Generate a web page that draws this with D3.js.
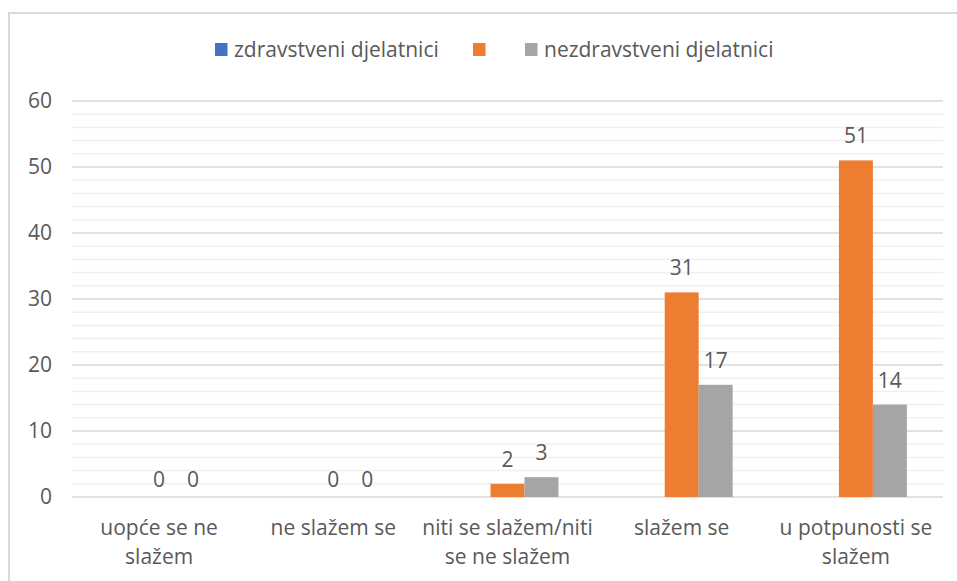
<!DOCTYPE html>
<head>
  <meta charset="utf-8">
  <title>zdravstveni / nezdravstveni djelatnici</title>
<style>
html, body{
  width: 100%;
  height: 100%;
  margin: 0;
  padding: 0;
  background: #fff;
}
body{
  font-family: 'Open Sans', 'Noto Sans', sans-serif;
}
svg text {
  fill: #595959;
}
.grid-major {
  stroke: #d9d9d9;
  stroke-width: 1.5;
}
.grid-minor {
  stroke: #efefef;
  stroke-width: 1.5;
}
</style>
</head>
<body>
<svg width="957" height="581"></svg>
<script src="https://d3js.org/d3.v7.min.js"></script>
<script>
var svg = d3.select("svg"),
    width = +svg.attr("width"),
    height = +svg.attr("height");

// data
var categories = ["uopće se ne\nslažem", "ne slažem se", "niti se slažem/niti\nse ne slažem", "slažem se", "u potpunosti se\nslažem"];
var seriesNames = ["zdravstveni djelatnici", "", "nezdravstveni djelatnici"];
var seriesColors = ["#4472c4", "#ed7d31", "#a5a5a5"];
var zdravstveni = [null, null, null, null, null];
var orange = [0, 0, 2, 31, 51];
var nezdravstveni = [0, 0, 3, 17, 14];
var yTicks = [0, 10, 20, 30, 40, 50, 60];

var series = [zdravstveni, orange, nezdravstveni];
var fontSize = "21px";

var margin = {left: 72, right: 14, top: 101, bottom: 84};

var x = d3.scaleBand()
    .domain(d3.range(categories.length))
    .range([margin.left, width - margin.right]);

var xInner = d3.scaleBand()
    .domain(d3.range(series.length))
    .range([0, x.bandwidth() * 0.585])
    .padding(0);

var y = d3.scaleLinear()
    .domain([0, 60])
    .range([height - margin.bottom, margin.top]);

// chart frame
svg.append("rect")
    .attr("x", 9).attr("y", 13)
    .attr("width", width + 20).attr("height", height + 20)
    .attr("fill", "none")
    .attr("stroke", "#d9d9d9")
    .attr("stroke-width", 2);

// minor gridlines every 2
svg.selectAll(".grid-minor")
  .data(d3.range(0, 61, 2).filter(function(d) { return d % 10 !== 0; }))
  .enter().append("line")
    .attr("class", "grid-minor")
    .attr("x1", margin.left).attr("x2", width - margin.right)
    .attr("y1", function(d) { return y(d); })
    .attr("y2", function(d) { return y(d); });

svg.selectAll(".grid-major")
  .data(yTicks)
  .enter().append("line")
    .attr("class", "grid-major")
    .attr("x1", margin.left).attr("x2", width - margin.right)
    .attr("y1", function(d) { return y(d); })
    .attr("y2", function(d) { return y(d); });

// y axis labels
var yAxis = d3.axisLeft(y).tickValues(yTicks).tickSize(0).tickPadding(20);
var yg = svg.append("g")
    .attr("transform", "translate(" + margin.left + ",0)")
    .call(yAxis);
yg.select(".domain").remove();
yg.selectAll("text")
    .style("font-family", "'Open Sans', sans-serif")
    .style("font-size", fontSize)
    .attr("fill", "#595959");

// bars
var groups = svg.selectAll(".series")
  .data(series)
  .enter().append("g")
    .attr("class", "series")
    .attr("fill", function(d, i) { return seriesColors[i]; });

groups.each(function(vals, si) {
  var g = d3.select(this);
  var off = (x.bandwidth() - xInner.range()[1]) / 2;
  var pts = vals.map(function(v, ci) { return {v: v, ci: ci}; })
    .filter(function(d) { return d.v !== null; });

  g.selectAll("rect")
    .data(pts)
    .enter().append("rect")
      .attr("x", function(d) { return x(d.ci) + off + xInner(si); })
      .attr("y", function(d) { return y(d.v); })
      .attr("width", xInner.bandwidth())
      .attr("height", function(d) { return y(0) - y(d.v); });

  g.selectAll("text")
    .data(pts)
    .enter().append("text")
      .attr("x", function(d) { return x(d.ci) + off + xInner(si) + xInner.bandwidth() / 2; })
      .attr("y", function(d) { return y(d.v) - (d.v > 0 ? 17 : 10); })
      .attr("text-anchor", "middle")
      .style("font-size", fontSize)
      .text(function(d) { return d.v; });
});

// category labels
var xl = svg.selectAll(".cat")
  .data(categories)
  .enter().append("text")
    .attr("class", "cat")
    .attr("text-anchor", "middle")
    .style("font-size", fontSize)
    .attr("transform", function(d, i) {
      return "translate(" + (x(i) + x.bandwidth() / 2) + "," + 535 + ")";
    });
xl.selectAll("tspan")
  .data(function(d) { return d.split("\n"); })
  .enter().append("tspan")
    .attr("x", 0)
    .attr("dy", function(d, i) { return i ? 29 : 0; })
    .text(function(d) { return d; });

// legend
var legendX = [215, 473, 525];
var legend = svg.selectAll(".legend")
  .data(seriesNames)
  .enter().append("g")
    .attr("class", "legend")
    .attr("transform", function(d, i) { return "translate(" + legendX[i] + ",43)"; });
legend.append("rect")
    .attr("width", 12.5).attr("height", 13)
    .attr("fill", function(d, i) { return seriesColors[i]; });
legend.append("text")
    .attr("x", 19).attr("y", 14)
    .style("font-size", fontSize)
    .text(function(d) { return d; });
</script>
</body>
